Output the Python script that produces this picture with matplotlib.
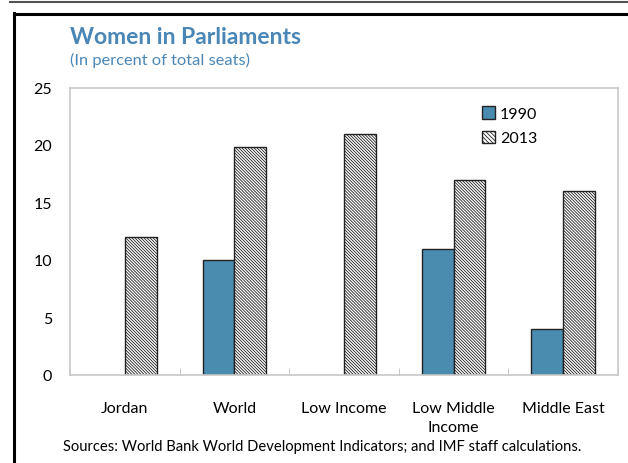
import matplotlib
matplotlib.use("Agg")
import matplotlib.pyplot as plt
import numpy as np
from matplotlib.lines import Line2D
from matplotlib.patches import Patch

categories = ["Jordan", "World", "Low Income", "Low Middle\nIncome", "Middle East"]
v1990 = [np.nan, 10.0, np.nan, 11.0, 4.0]
v2013 = [12.0, 19.8, 21.0, 17.0, 16.0]
yticks = [0, 5, 10, 15, 20, 25]

plt.rcParams['font.family'] = ['Lato', 'DejaVu Sans']
plt.rcParams['hatch.linewidth'] = 0.6
plt.rcParams['hatch.color'] = '#3a3a3a'

W, H = 628, 464
fig = plt.figure(figsize=(W/100, H/100), dpi=100)
ax = fig.add_axes([70/W, 1-376/H, (618-70)/W, (376-88.5)/H])

x = np.arange(len(categories))
bw = 0.29
blue = '#4A8BB0'
hatch = '\\' * 11
ax.bar(x - bw/2, v1990, bw, color=blue, edgecolor='#222222', linewidth=1.0, label='1990')
ax.bar(x + bw/2, v2013, bw, color='white', edgecolor='#222222', linewidth=1.0,
       hatch=hatch, label='2013')

ax.set_xlim(-0.5, len(categories) - 0.5)
ax.set_ylim(0, 25)
ax.set_yticks(yticks)
ax.set_yticklabels([str(t) for t in yticks], fontsize=11.5)
ax.tick_params(axis='y', length=0, pad=13)
ax.set_xticks(np.arange(len(categories) + 1) - 0.5, minor=True)
ax.set_xticks(x)
ax.set_xticklabels(categories, fontsize=11.5, linespacing=1.45)
ax.tick_params(axis='x', which='major', length=0, pad=19)
ax.tick_params(axis='x', which='minor', direction='in', length=5, color='#BFBFBF')
for s in ax.spines.values():
    s.set_color('#C8C8C8')
    s.set_linewidth(1.2)

handles = [Patch(facecolor=blue, edgecolor='#222222', label='1990'),
           Patch(facecolor='white', edgecolor='#222222', hatch='\\' * 8, label='2013')]
ax.legend(handles=handles, loc='upper left', bbox_to_anchor=((476-70)/(618-70), 1-(101-88.5)/(376-88.5)),
          frameon=False, fontsize=11.5, handlelength=0.8, handleheight=0.8, handletextpad=0.3,
          labelspacing=0.6, borderaxespad=0)

fig.text(70/W, 1-37/H, "Women in Parliaments", fontsize=16.5, fontweight='bold', color='#4A86B6',
         va='center', ha='left')
fig.text(70/W, 1-60/H, "(In percent of total seats)", fontsize=11.8, color='#4A86B6',
         va='center', ha='left')
fig.text(322/W, 1-447/H, "Sources: World Bank World Development Indicators; and IMF staff calculations.",
         fontsize=10.6, color='black', va='center', ha='center')

# frame lines
fig.add_artist(Line2D([10/W, 1], [1-2.5/H, 1-2.5/H], transform=fig.transFigure, color='#555555', lw=1.5))
fig.add_artist(Line2D([14/W, 1], [1-14.5/H, 1-14.5/H], transform=fig.transFigure, color='black', lw=2.2))
fig.add_artist(Line2D([14.5/W, 14.5/W], [0, 1-14/H], transform=fig.transFigure, color='black', lw=2.2))

fig.savefig("out.png", dpi=100)
